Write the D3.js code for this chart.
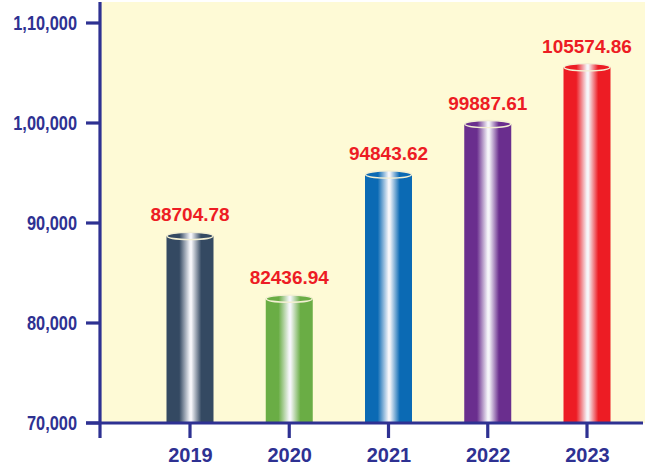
<!DOCTYPE html>
<html>
<head>
<meta charset="utf-8">
<script src="https://cdn.jsdelivr.net/npm/d3@7"></script>
<style>
  html, body { margin: 0; padding: 0; background: #ffffff; }
  svg { display: block; }
  text { font-family: "Liberation Sans", Arial, Helvetica, sans-serif; font-weight: bold; }
</style>
</head>
<body>
<svg id="chart" width="653" height="474"></svg>
<script>
const years = ["2019", "2020", "2021", "2022", "2023"];
const values = [88704.78, 82436.94, 94843.62, 99887.61, 105574.86];
const valueLabels = ["88704.78", "82436.94", "94843.62", "99887.61", "105574.86"];
const barColors = ["#344962", "#6aad45", "#0b6ab4", "#6a2e8e", "#ed1c24"];
const yTickValues = [70000, 80000, 90000, 100000, 110000];
const yTickLabels = ["70,000", "80,000", "90,000", "1,00,000", "1,10,000"];

const axisColor = "#2e3192";
const svg = d3.select("#chart");

const plot = { left: 100, right: 645, top: 2, bottom: 423 };
const y = d3.scaleLinear().domain([70000, 110000]).range([423, 23]);
const x = d3.scalePoint().domain(years).range([190, 587]);
const barW = 47;
const capRy = 3.6;

// background
svg.append("rect")
  .attr("x", plot.left).attr("y", plot.top)
  .attr("width", plot.right - plot.left).attr("height", plot.bottom - plot.top)
  .attr("fill", "#fefad6");

// gradients
const defs = svg.append("defs");
years.forEach((yr, i) => {
  const g = defs.append("linearGradient")
    .attr("id", "g" + i).attr("x1", "0%").attr("x2", "100%").attr("y1", "0%").attr("y2", "0%");
  const c = barColors[i];
  [[0, c], [0.27, c], [0.5, "#f6f6fa"], [0.53, "#f6f6fa"], [0.74, c], [1, c]].forEach(s => {
    g.append("stop").attr("offset", s[0]).attr("stop-color", s[1]);
  });
});

// bars
const bars = svg.append("g");
years.forEach((yr, i) => {
  const cx = x(yr);
  const top = y(values[i]);
  bars.append("rect")
    .attr("x", cx - barW / 2).attr("y", top)
    .attr("width", barW).attr("height", y(70000) - top)
    .attr("fill", "url(#g" + i + ")");
  bars.append("ellipse")
    .attr("cx", cx).attr("cy", top)
    .attr("rx", barW / 2 - 0.5).attr("ry", capRy)
    .attr("fill", "url(#g" + i + ")")
    .attr("stroke", "#f3efd2").attr("stroke-width", 1.3);
  bars.append("text")
    .attr("x", cx).attr("y", top - capRy - 11)
    .attr("text-anchor", "middle")
    .attr("font-size", 19)
    .attr("fill", "#ed1c24")
    .text(valueLabels[i]);
});

// y axis
const axes = svg.append("g").attr("stroke", axisColor).attr("stroke-width", 3.2);
axes.append("line").attr("x1", 100).attr("x2", 100).attr("y1", 2).attr("y2", 438);
axes.append("line").attr("x1", 86).attr("x2", 643).attr("y1", y(70000)).attr("y2", y(70000));
yTickValues.forEach(v => {
  axes.append("line").attr("x1", 86).attr("x2", 100).attr("y1", y(v)).attr("y2", y(v));
});
years.forEach(yr => {
  axes.append("line").attr("x1", x(yr)).attr("x2", x(yr)).attr("y1", y(70000)).attr("y2", 438);
});

// y tick labels
yTickValues.forEach((v, i) => {
  svg.append("text")
    .attr("transform", `translate(77,${y(v) + 7}) scale(0.84,1)`)
    .attr("text-anchor", "end")
    .attr("font-size", 19.5)
    .attr("fill", axisColor)
    .text(yTickLabels[i]);
});

// x labels
years.forEach(yr => {
  svg.append("text")
    .attr("x", x(yr) + 0.5).attr("y", 462)
    .attr("text-anchor", "middle")
    .attr("font-size", 20)
    .attr("fill", axisColor)
    .text(yr);
});
</script>
</body>
</html>
